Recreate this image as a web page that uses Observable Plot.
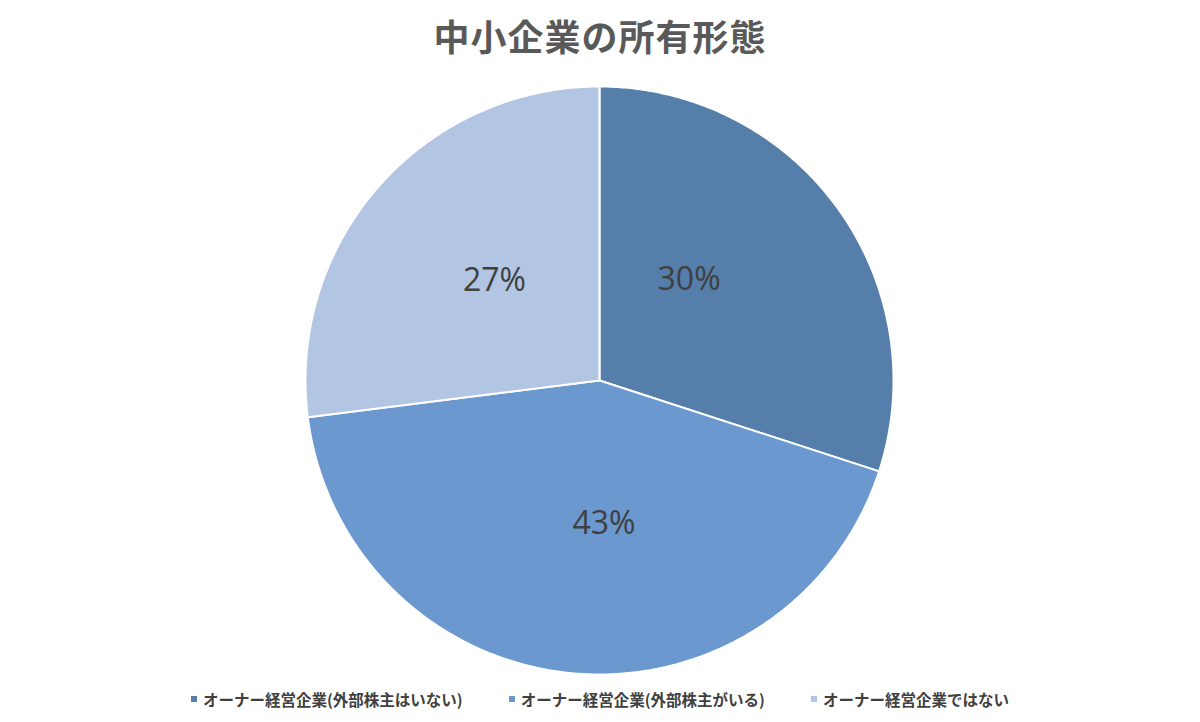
<!DOCTYPE html>
<html>
<head>
<meta charset="utf-8">
<script src="https://cdn.jsdelivr.net/npm/d3@7"></script>
<script src="https://cdn.jsdelivr.net/npm/@observablehq/plot@0.6"></script>
<style>
  html, body { margin: 0; padding: 0; background: #fff; }
  body { width: 1200px; height: 722px; overflow: hidden; font-family: "Noto Sans CJK JP", "Noto Sans", sans-serif; }
  #title { height: 70px; line-height: 70px; text-align: center; font-size: 36px; font-weight: 700; color: #595959; letter-spacing: 1px; }
  #chart svg { display: block; }
  #legend { display: flex; justify-content: center; align-items: center; gap: 46px; margin-top: 8px; font-size: 15.5px; font-weight: 700; color: #404040; }
  .item { display: flex; align-items: center; }
  .sw { width: 6px; height: 6px; margin-right: 6px; }
</style>
</head>
<body>
<div id="title">中小企業の所有形態</div>
<div id="chart"></div>
<div id="legend"></div>
<script>
const categories = ["オーナー経営企業(外部株主はいない)", "オーナー経営企業(外部株主がいる)", "オーナー経営企業ではない"];
const values = [30, 43, 27];
const labels = ["30%", "43%", "27%"];
const colors = ["#557eab", "#6a98cf", "#b2c5e2"];

const data = categories.map((c, i) => ({category: c, value: values[i], label: labels[i]}));
const arcs = d3.pie().value(d => d.value).sort(null)(data);

// screen-style coordinates: y grows downward, angle 0 at top, clockwise
const pt = (a, r) => [r * Math.sin(a), -r * Math.cos(a)];
const features = arcs.map(a => {
  const n = Math.max(2, Math.ceil((a.endAngle - a.startAngle) / (Math.PI / 360)));
  const ring = [[0, 0]];
  for (let k = 0; k <= n; k++) ring.push(pt(a.startAngle + (a.endAngle - a.startAngle) * k / n, 1));
  ring.push([0, 0]);
  return {type: "Feature", properties: {category: a.data.category}, geometry: {type: "Polygon", coordinates: [ring]}};
});
const outline = {type: "Polygon", coordinates: [d3.range(0, 361, 2).map(d => pt(d * Math.PI / 180, 1))]};

// label nudges (px) mimicking the spreadsheet's "best fit" placement
const nudgeX = [-27, 18, 3];
const nudgeY = [-16, 0, -4];

const labelPts = arcs.map((a, i) => {
  const m = (a.startAngle + a.endAngle) / 2;
  const [x, y] = pt(m, 0.49);
  return {x, y, label: a.data.label, i};
});

const chart = Plot.plot({
  width: 1200,
  height: 610,
  marginTop: 16,
  marginBottom: 6,
  marginLeft: 0,
  marginRight: 2,
  projection: {type: "identity", domain: outline},
  color: {domain: categories, range: colors},
  marks: [
    Plot.geo(features, {fill: d => d.properties.category, stroke: "#fff", strokeWidth: 2}),
    ...labelPts.map(p => Plot.text([p], {x: "x", y: "y", text: "label", dx: nudgeX[p.i], dy: nudgeY[p.i], fontSize: 32, fill: "#404040", fontFamily: "Open Sans, sans-serif"}))
  ]
});
document.getElementById("chart").append(chart);

const legend = document.getElementById("legend");
categories.forEach((c, i) => {
  const it = document.createElement("div");
  it.className = "item";
  const sw = document.createElement("span");
  sw.className = "sw";
  sw.style.background = colors[i];
  const t = document.createElement("span");
  t.textContent = c;
  it.append(sw, t);
  legend.append(it);
});
</script>
</body>
</html>
